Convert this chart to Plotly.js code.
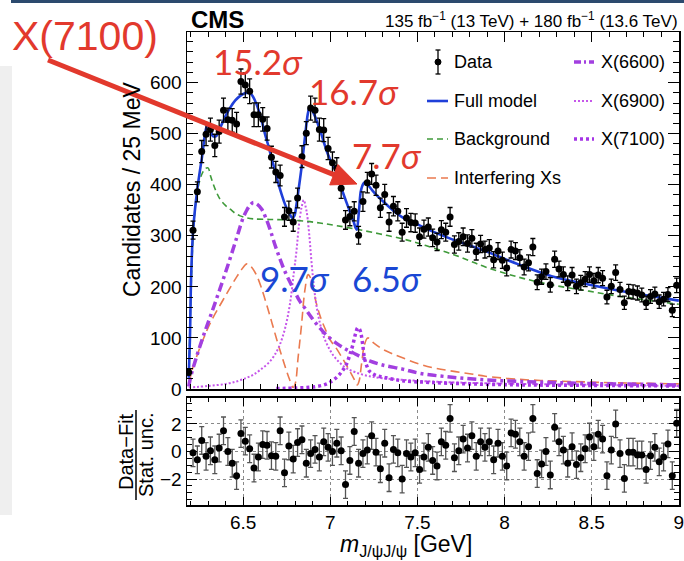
<!DOCTYPE html>
<html>
<head>
<meta charset="utf-8">
<script src="https://cdn.plot.ly/plotly-3.0.1.min.js"></script>
<style>html,body{margin:0;padding:0;background:#fff;}#chart{width:684px;height:561px;}</style>
</head>
<body>
<div id="chart"></div>
<script>
// ---------------- data ----------------
const binStart = 6.1875;   // GeV, first bin centre
const binWidth = 0.025;    // 25 MeV bins

const dataY = [33,311,386,465,499,508,477,504,546,527,526,519,602,595,583,537,537,528,510,454,
  425,418,337,349,327,374,455,501,550,546,508,507,471,443,432,393,331,338,348,301,
  367,404,421,399,355,381,327,358,348,307,335,326,325,298,313,317,296,288,312,307,
  337,283,289,298,285,295,269,284,273,276,253,270,252,237,273,270,257,239,247,278,
  209,220,230,204,254,235,224,207,223,201,208,215,224,212,223,217,180,201,228,195,
  169,191,190,188,184,169,181,186,171,176,185,154,203];

const resid = [-0.1,-0.6,0.8,-0.35,0.05,-0.6,0.25,1.5,0.0,-0.85,-1.75,1.3,0.75,0.2,-1.2,-0.4,0.5,0.45,-0.3,-0.35,
  1.5,-1.55,0.4,-0.55,0.65,0.85,-0.85,-0.15,0.15,-0.4,0.7,0.3,0.0,0.6,0.05,-2.4,-0.65,1.45,-0.85,-0.15,
  0.1,1.15,-0.05,-1.25,0.6,-1.9,0.15,-0.1,-2.0,-0.15,-0.4,-0.1,-1.3,-0.4,0.3,-0.65,-1.05,0.7,0.45,2.4,
  -0.45,0.05,0.9,0.25,1.15,-0.35,0.7,0.3,0.7,-0.6,0.6,-0.35,-1.05,1.35,1.25,0.7,-0.35,0.35,2.4,-1.6,
  -0.9,0.0,-1.7,1.75,0.7,0.1,-0.85,0.35,-0.95,-0.45,0.2,1.05,0.35,1.25,0.9,-1.75,0.1,2.0,-0.15,-1.95,
  -0.05,-0.05,-0.25,-0.25,-1.3,-0.3,0.3,-0.75,-0.4,0.55,-1.75,2.05];

const fullX = [6.188,6.195,6.2016,6.213,6.2359,6.2644,6.2891,6.300,6.312,6.327,6.345,6.369,6.40,6.426,6.455,6.483,6.510,6.531,6.550,6.569,
  6.590,6.607,6.625,6.645,6.665,6.683,6.700,6.721,6.740,6.759,6.7835,6.795,6.806,6.820,6.835,6.850,6.863,6.873,6.882,6.895,
  6.911,6.930,6.949,6.968,6.987,7.005,7.025,7.045,7.063,7.083,7.101,7.120,7.133,7.145,7.152,7.165,7.177,7.195,7.206,7.225,
  7.2436,7.27,7.3007,7.34,7.3768,7.41,7.4528,7.51,7.55,7.70,7.89,8.08,8.27,8.461,8.651,8.841,9.0];
const fullY = [22,100,218,310,388,455,512,518,510,495,495,512,535,551,565,574,579,580,576,564,
  545,525,500,476,450,427,405,381,362,348,335,340,361,395,433,478,518,542,551,546,
  535,518,499,478,459,445,433,414,394,375,358,340,329,316,312,350,390,404,404,396,
  388,378,368,356,345,337,329,321,314,293,270,244,221,206,193,182,173];

const bkgX = [6.188,6.200,6.215,6.230,6.245,6.265,6.285,6.2986,6.315,6.331,6.350,6.369,6.40,6.426,6.455,6.483,6.52,6.559,6.654,6.75,
  6.844,6.94,7.034,7.149,7.28,7.415,7.51,7.60,7.70,7.80,7.89,8.08,8.27,8.461,8.651,8.84,9.0];
const bkgY = [25,180,310,370,400,422,432,433,415,399,383,371,359,352,344,339,335,333,332,331,
  329,325,320,313,304,294,285,275,264,251,239,219,204,193,182,173,166];

const intX = [6.188,6.21,6.24,6.274,6.32,6.369,6.42,6.464,6.50,6.521,6.545,6.578,6.605,6.635,6.665,6.692,6.715,6.740,6.765,6.787,
  6.800,6.815,6.835,6.855,6.873,6.890,6.920,6.950,6.977,7.00,7.034,7.065,7.092,7.120,7.139,7.155,7.165,7.180,7.195,7.215,
  7.25,7.30,7.35,7.415,7.51,7.60,7.70,7.80,7.89,8.08,8.27,8.46,8.65,8.84,9.0];
const intY = [10,40,70,100,135,165,195,220,238,245,240,222,198,165,130,98,72,45,20,3,
  12,60,125,195,224,215,168,135,113,96,80,63,47,30,18,8,15,50,85,100,
  90,78,70,61,49,41,35,30,25,19,16,14,12,11,10];

const x66X = [6.188,6.20,6.23,6.274,6.32,6.369,6.42,6.464,6.50,6.521,6.540,6.559,6.580,6.607,6.63,6.654,6.68,6.711,6.74,6.768,
  6.80,6.825,6.855,6.882,6.91,6.939,6.98,7.034,7.08,7.13,7.18,7.225,7.30,7.415,7.51,7.70,7.89,8.08,8.27,8.46,8.65,8.84,9.0];
const x66Y = [5,25,60,106,150,198,250,297,335,350,360,365,362,352,335,313,285,255,230,210,
  188,172,158,145,132,120,105,90,80,71,62,55,47,39,31,23,18,15,13,11,10,9,8];

const x69X = [6.188,6.30,6.40,6.464,6.52,6.559,6.60,6.654,6.690,6.711,6.740,6.768,6.790,6.806,6.820,6.835,6.848,6.860,6.867,6.880,
  6.892,6.905,6.920,6.940,6.958,6.985,7.015,7.05,7.092,7.15,7.225,7.30,7.415,7.567,7.80,8.10,8.50,9.0];
const x69Y = [3,6,10,15,22,28,38,54,72,87,118,165,225,270,320,355,370,355,342,300,
  250,205,165,130,107,85,67,53,41,32,25,21,18,15,12,10,8,6];

const x71X = [6.69,6.80,6.90,6.98,7.034,7.07,7.092,7.115,7.130,7.145,7.158,7.168,7.177,7.187,7.196,7.210,7.225,7.26,7.320,7.415,
  7.567,7.80,8.10,8.50,9.0];
const x71Y = [1,2,4,10,22,36,48,70,87,108,120,117,107,85,61,45,35,27,22,16,
  13,10,8,7,6];

const legendLeft = ['Data','Full model','Background','Interfering Xs'];
const legendRight = ['X(6600)','X(6900)','X(7100)'];

// ---------------- styling ----------------
const FONT = 'Liberation Sans, Arial, Helvetica, sans-serif';
const C_FULL = '#1f3fd9', C_BKG = '#3f9a3a', C_INT = '#ea7a4f', C_X66 = '#a23fe0', C_X69 = '#c657ea', C_X71 = '#a534e6';
const RED = '#e2392d', BLUE = '#1a47d4';

const L = 187, Wp = 492, T = 32, Hp = 473;
const P = px => (px - L) / Wp;
const Q = py => (T + Hp - py) / Hp;

const xData = dataY.map((_, i) => binStart + binWidth * i);
const xRes = resid.map((_, i) => binStart + binWidth * (i + 1));

const traces = [
  {x: intX, y: intY, mode: 'lines', line: {color: C_INT, width: 1.6, dash: '9px,5px', shape: 'spline'}, xaxis: 'x', yaxis: 'y'},
  {x: x69X, y: x69Y, mode: 'lines', line: {color: C_X69, width: 2, dash: '2px,2px', shape: 'spline'}, xaxis: 'x', yaxis: 'y'},
  {x: x71X, y: x71Y, mode: 'lines', line: {color: C_X71, width: 3.5, dash: '3px,3px', shape: 'spline'}, xaxis: 'x', yaxis: 'y'},
  {x: x66X, y: x66Y, mode: 'lines', line: {color: C_X66, width: 3.5, dash: '9px,4px,3px,4px', shape: 'spline'}, xaxis: 'x', yaxis: 'y'},
  {x: bkgX, y: bkgY, mode: 'lines', line: {color: C_BKG, width: 1.6, dash: '6px,4px', shape: 'spline'}, xaxis: 'x', yaxis: 'y'},
  {x: fullX, y: fullY, mode: 'lines', line: {color: C_FULL, width: 2.6, shape: 'spline'}, xaxis: 'x', yaxis: 'y'},
  {x: xData, y: dataY, mode: 'markers', marker: {color: '#000', size: 7},
   error_y: {type: 'sqrt', color: '#000', thickness: 1.3, width: 2.5}, xaxis: 'x', yaxis: 'y'},
  {x: xRes, y: resid, mode: 'markers', marker: {color: '#000', size: 7},
   error_y: {type: 'constant', value: 1, color: '#555', thickness: 1.3, width: 2.5}, xaxis: 'x2', yaxis: 'y2'}
];

const axBase = {showline: true, linecolor: '#000', linewidth: 1.5, mirror: 'allticks', zeroline: false,
  ticks: 'inside', tickcolor: '#000', tickwidth: 1, ticklabeloverflow: 'allow',
  tickfont: {family: FONT, size: 19, color: '#000'}};

const A = (o) => Object.assign({xref: 'paper', yref: 'paper', showarrow: false}, o);

const annotations = [
  A({text: '<b>CMS</b>', x: P(189), y: Q(20), xanchor: 'left', yanchor: 'middle', font: {family: FONT, size: 24, color: '#000'}}),
  A({text: '135 fb<sup>−1</sup> (13 TeV) + 180 fb<sup>−1</sup> (13.6 TeV)', x: P(680), y: Q(20), xanchor: 'right', yanchor: 'middle', font: {family: FONT, size: 17, color: '#000'}}),
  A({text: 'Candidates / 25 MeV', textangle: -90, x: P(132), y: Q(190), xanchor: 'center', yanchor: 'middle', font: {family: FONT, size: 23, color: '#000'}}),
  A({text: 'Data−Fit', textangle: -90, x: P(126), y: Q(452), xanchor: 'center', yanchor: 'middle', font: {family: FONT, size: 20, color: '#000'}}),
  A({text: 'Stat. unc.', textangle: -90, x: P(146), y: Q(455), xanchor: 'center', yanchor: 'middle', font: {family: FONT, size: 20, color: '#000'}}),
  A({text: '<i>m</i><sub>J/ψJ/ψ</sub> [GeV]', x: P(406), y: Q(545), xanchor: 'center', yanchor: 'middle', font: {family: FONT, size: 23, color: '#000'}}),
];
// legend texts
const legRowsY = [62, 101, 139, 178];
legendLeft.forEach((t, i) => annotations.push(A({text: t, x: P(452), y: Q(legRowsY[i]), xanchor: 'left', yanchor: 'middle', font: {family: FONT, size: 18, color: '#000'}})));
legendRight.forEach((t, i) => annotations.push(A({text: t, x: P(599), y: Q(legRowsY[i]), xanchor: 'left', yanchor: 'middle', font: {family: FONT, size: 18, color: '#000'}})));

// slide overlay labels
const SIG = 'Lato, Open Sans, sans-serif';
annotations.push(
  A({text: 'X(7100)', x: P(85), y: Q(36), xanchor: 'center', yanchor: 'middle', font: {family: FONT, size: 41, color: RED}}),
  A({text: '15.2<i>σ</i>', x: P(258), y: Q(61), xanchor: 'center', yanchor: 'middle', font: {family: SIG, size: 35, color: RED}}),
  A({text: '16.7<i>σ</i>', x: P(354), y: Q(91), xanchor: 'center', yanchor: 'middle', font: {family: SIG, size: 35, color: RED}}),
  A({text: '7.7<i>σ</i>', x: P(387), y: Q(155), xanchor: 'center', yanchor: 'middle', font: {family: SIG, size: 35, color: RED}}),
  A({text: '9.7<i>σ</i>', x: P(295), y: Q(278), xanchor: 'center', yanchor: 'middle', font: {family: SIG, size: 35, color: BLUE}}),
  A({text: '6.5<i>σ</i>', x: P(387), y: Q(278), xanchor: 'center', yanchor: 'middle', font: {family: SIG, size: 35, color: BLUE}})
);

const ln = (x0, y0, x1, y1, color, width, dash) => ({type: 'line', xref: 'paper', yref: 'paper',
  x0: P(x0), y0: Q(y0), x1: P(x1), y1: Q(y1), line: {color, width, dash: dash || 'solid'}});

// red arrow (slide overlay): tail -> tip, with a filled head
const tail = [48, 60], tip = [357, 184];
const dx = tip[0] - tail[0], dy = tip[1] - tail[1], dl = Math.hypot(dx, dy);
const ux = dx / dl, uy = dy / dl, nx = -uy, ny = ux;
const hb = [tip[0] - 25 * ux, tip[1] - 25 * uy];
const c1 = [hb[0] + 11 * nx, hb[1] + 11 * ny], c2 = [hb[0] - 11 * nx, hb[1] - 11 * ny];

const shapes = [
  {type: 'rect', xref: 'paper', yref: 'paper', x0: P(11), x1: P(684), y0: Q(0), y1: Q(3), fillcolor: '#2c4a6e', line: {width: 0}, layer: 'below'},
  {type: 'rect', xref: 'paper', yref: 'paper', x0: P(0), x1: P(12), y0: Q(66), y1: Q(515), fillcolor: '#efefef', line: {width: 0}, layer: 'below'},
  // fraction bar of residual title
  ln(136, 410, 136, 500, '#000', 1.5),
  // legend: data
  ln(438, 50, 438, 74, '#000', 1.3), ln(435.5, 50, 440.5, 50, '#000', 1.3), ln(435.5, 74, 440.5, 74, '#000', 1.3),
  {type: 'circle', xref: 'paper', yref: 'paper', x0: P(435), x1: P(441), y0: Q(59), y1: Q(65), fillcolor: '#000', line: {color: '#000', width: 1}},
  ln(427, 101, 448, 101, C_FULL, 2.6),
  ln(427, 139, 448, 139, C_BKG, 1.6, '6px,4px'),
  ln(427, 178, 448, 178, C_INT, 1.6, '9px,5px'),
  ln(574, 62, 594, 62, C_X66, 3.5, '7px,3px,2px,3px'),
  ln(574, 101, 594, 101, C_X69, 2, '2px,2px'),
  ln(574, 139, 594, 139, C_X71, 3.5, '3px,3px'),
  // arrow
  ln(tail[0], tail[1], hb[0] + 2 * ux, hb[1] + 2 * uy, RED, 5),
  {type: 'path', xref: 'paper', yref: 'paper',
   path: `M ${P(tip[0])} ${Q(tip[1])} L ${P(c1[0])} ${Q(c1[1])} L ${P(c2[0])} ${Q(c2[1])} Z`,
   fillcolor: RED, line: {color: RED, width: 1}}
];

const layout = {
  width: 684, height: 561,
  margin: {l: L, r: 684 - L - Wp, t: T, b: 561 - T - Hp, pad: 0},
  paper_bgcolor: '#fff', plot_bgcolor: '#fff',
  showlegend: false,
  font: {family: FONT, color: '#000'},
  xaxis: Object.assign({}, axBase, {anchor: 'y', domain: [0, 1], range: [6.178, 9.001], showticklabels: false,
    tick0: 6.5, dtick: 0.5, ticklen: 10, showgrid: false,
    minor: {ticks: 'inside', dtick: 0.1, ticklen: 5, tickcolor: '#000', showgrid: false}}),
  yaxis: Object.assign({}, axBase, {anchor: 'x', domain: [0.2452, 1], range: [0, 699],
    tick0: 0, dtick: 100, ticklen: 11, showgrid: false,
    minor: {ticks: 'inside', dtick: 20, ticklen: 6, tickcolor: '#000', showgrid: false}}),
  xaxis2: Object.assign({}, axBase, {anchor: 'y2', domain: [0, 1], matches: 'x', range: [6.178, 9.001],
    tick0: 6.5, dtick: 0.5, ticklen: 8, showgrid: true, gridcolor: '#8a8a8a', griddash: 'dot', gridwidth: 1,
    minor: {ticks: 'inside', dtick: 0.1, ticklen: 4, tickcolor: '#000', showgrid: false}}),
  yaxis2: Object.assign({}, axBase, {anchor: 'x2', domain: [0, 0.2268], range: [-3.88, 3.9],
    tick0: 0, dtick: 2, ticklen: 10, showgrid: true, gridcolor: '#8a8a8a', griddash: 'dot', gridwidth: 1,
    minor: {ticks: 'inside', dtick: 0.5, ticklen: 5, tickcolor: '#000', showgrid: false}}),
  annotations, shapes
};

Plotly.newPlot('chart', traces, layout, {displayModeBar: false, staticPlot: true});
</script>
</body>
</html>
